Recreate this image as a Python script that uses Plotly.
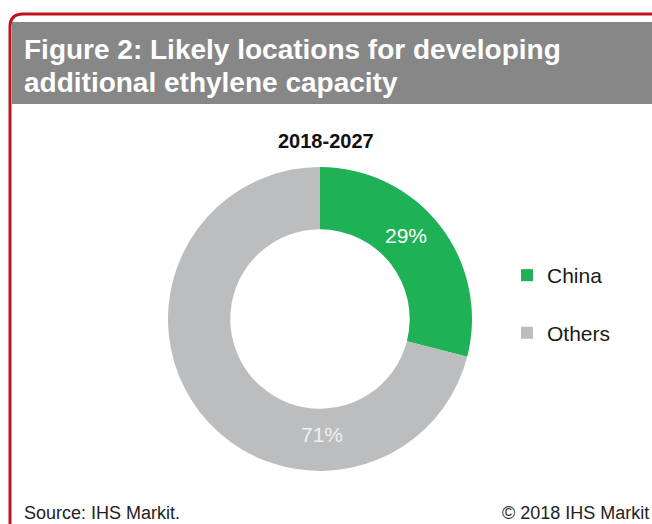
import plotly.graph_objects as go

W, H = 652, 524

# Chart data
period = "2018-2027"
regions = ["China", "Others"]
shares = [29, 71]
slice_colors = ["#1fb155", "#bcbdbf"]
label_colors = ["#ffffff", "#f0f0f0"]

title_lines = ["Figure 2: Likely locations for developing", "additional ethylene capacity"]
source_text = "Source: IHS Markit."
copyright_text = "© 2018 IHS Markit"

FONT = "Liberation Sans, Arial"


def px(x):
    return x / W


def py(y):
    return 1 - y / H


fig = go.Figure()

# Donut centred at (320, 319) px with outer radius ~152 px
cx, cy, r = 320, 319, 152
fig.add_trace(go.Pie(
    labels=[f"{lab}<br> " for lab in regions],
    values=shares,
    hole=0.59,
    sort=False,
    direction="clockwise",
    rotation=0,
    marker=dict(colors=slice_colors, line=dict(width=0)),
    textinfo="none",
    domain=dict(x=[px(cx - r), px(cx + r)], y=[py(cy + r), py(cy - r)]),
    hoverinfo="label+percent",
    showlegend=True,
))

shapes = [
    # grey title band
    dict(type="rect", xref="paper", yref="paper",
         x0=px(12), x1=px(W + 5), y0=py(104), y1=py(22),
         fillcolor="#878787", line=dict(width=0), layer="below"),
    # red frame with rounded top-left corner
    dict(type="path", xref="paper", yref="paper",
         path=(f"M {px(10)} {py(H + 5)} L {px(10)} {py(27)} "
               f"Q {px(10)} {py(14)} {px(23)} {py(14)} L {px(W + 5)} {py(14)}"),
         line=dict(color="#c0121f", width=3), layer="above"),
]

annotations = []

# title, one annotation per line
for line, yy in zip(title_lines, [50, 83]):
    annotations.append(dict(
        text=f"<b>{line}</b>", x=px(22), y=py(yy), xref="paper", yref="paper",
        xanchor="left", yanchor="middle", align="left", showarrow=False,
        font=dict(family=FONT, size=28, color="white")))

# percentage labels on the ring
label_pos = [(406, 235), (322, 434)]
for v, (lx, ly), col in zip(shares, label_pos, label_colors):
    annotations.append(dict(
        text=f"{v}%", x=px(lx), y=py(ly), xref="paper", yref="paper",
        xanchor="center", yanchor="middle", showarrow=False,
        font=dict(family=FONT, size=21, color=col)))

annotations += [
    dict(text=f"<b>{period}</b>", x=px(326), y=py(141), xref="paper", yref="paper",
         xanchor="center", yanchor="middle", showarrow=False,
         font=dict(family=FONT, size=20, color="#111111")),
    dict(text=source_text, x=px(22), y=py(513), xref="paper", yref="paper",
         xanchor="left", yanchor="middle", showarrow=False,
         font=dict(family=FONT, size=18, color="#222222")),
    dict(text=copyright_text, x=px(651), y=py(513), xref="paper", yref="paper",
         xanchor="right", yanchor="middle", showarrow=False,
         font=dict(family=FONT, size=18, color="#222222")),
]

fig.update_layout(
    width=W, height=H,
    margin=dict(l=0, r=0, t=0, b=0),
    paper_bgcolor="white", plot_bgcolor="white",
    shapes=shapes,
    annotations=annotations,
    legend=dict(x=px(507), y=py(255), xanchor="left", yanchor="top",
                valign="top", bgcolor="rgba(0,0,0,0)",
                font=dict(family=FONT, size=21, color="#1a1a1a"),
                itemclick=False, itemdoubleclick=False),
)

fig.write_html("out.html")
